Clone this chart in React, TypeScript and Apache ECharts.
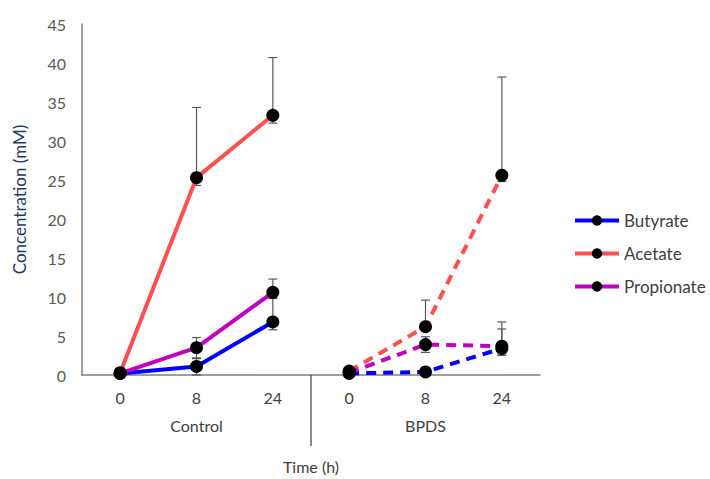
import React, { useEffect, useRef } from "react";
import * as echarts from "echarts";

const categories = ["0", "8", "24", "0", "8", "24"];
const groups = ["Control", "BPDS"];
const seriesNames = ["Butyrate", "Acetate", "Propionate"];
const colors = ["#0000ff", "#ff5050", "#c000c0"];

const butyrate = [0.2, 1.1, 6.8, 0.2, 0.4, 3.4];
const acetate = [0.3, 25.3, 33.3, 0.5, 6.2, 25.6];
const propionate = [0.2, 3.5, 10.6, 0.3, 3.9, 3.7];

const butyratePlus = [0, 1.0, 3.0, 0, 0, 2.5];
const butyrateMinus = [0, 1.1, 1.0, 0, 0, 0.9];
const acetatePlus = [0, 9.0, 7.4, 0, 3.4, 12.6];
const acetateMinus = [0, 1.0, 1.0, 0, 0.5, 0.8];
const propionatePlus = [0, 1.3, 1.7, 0, 1.0, 3.1];
const propionateMinus = [0, 1.3, 0.7, 0, 1.0, 1.0];

const FONT = "Lato, 'Open Sans', sans-serif";

export default function App() {
  const ref = useRef<HTMLDivElement>(null);

  useEffect(() => {
    if (!ref.current) return;
    const chart = echarts.init(ref.current, null, { renderer: "svg" });

    const values = [butyrate, acetate, propionate];
    const plus = [butyratePlus, acetatePlus, propionatePlus];
    const minus = [butyrateMinus, acetateMinus, propionateMinus];

    const lineSeries: any[] = [];
    values.forEach((vals, k) => {
      const ctrl = vals.map((v, i) => (i < 3 ? v : null));
      const bpds = vals.map((v, i) => (i >= 3 ? v : null));
      [ctrl, bpds].forEach((d, g) => {
        lineSeries.push({
          type: "line",
          name: seriesNames[k],
          data: d,
          xAxisIndex: 0,
          symbol: "circle",
          symbolSize: 13,
          showSymbol: true,
          connectNulls: false,
          z: 3,
          lineStyle: {
            color: colors[k],
            width: 4,
            type: g === 0 ? "solid" : [10, 7],
          },
          itemStyle: { color: "#000", borderWidth: 0 },
          emphasis: { disabled: true },
        });
      });
    });

    const errData: any[] = [];
    values.forEach((vals, k) => {
      vals.forEach((v, i) => {
        if (plus[k][i] > 0 || minus[k][i] > 0) {
          errData.push([i, v + plus[k][i], v - minus[k][i]]);
        }
      });
    });

    const errorSeries = {
      type: "custom",
      name: "err",
      xAxisIndex: 0,
      z: 2,
      silent: true,
      data: errData,
      encode: { x: 0, y: [1, 2] },
      renderItem: (params: any, api: any) => {
        const x = api.value(0);
        const hi = api.coord([x, api.value(1)]);
        const lo = api.coord([x, api.value(2)]);
        const w = 4.5;
        const style = { stroke: "#595959", lineWidth: 1.2 };
        return {
          type: "group",
          children: [
            { type: "line", shape: { x1: hi[0], y1: hi[1], x2: lo[0], y2: lo[1] }, style },
            { type: "line", shape: { x1: hi[0] - w, y1: hi[1], x2: hi[0] + w, y2: hi[1] }, style },
            { type: "line", shape: { x1: lo[0] - w, y1: lo[1], x2: lo[0] + w, y2: lo[1] }, style },
          ],
        };
      },
    };

    const separatorSeries = {
      type: "custom",
      name: "sep",
      xAxisIndex: 0,
      silent: true,
      clip: false,
      data: [[2, 0]],
      renderItem: (params: any, api: any) => {
        const a = api.coord([2, 0]);
        const b = api.coord([3, 0]);
        const x = (a[0] + b[0]) / 2;
        return {
          type: "line",
          shape: { x1: x, y1: a[1], x2: x, y2: a[1] + 71 },
          style: { stroke: "#404040", lineWidth: 1.2 },
        };
      },
    };

    chart.setOption({
      animation: false,
      textStyle: { fontFamily: FONT },
      grid: { left: 82, right: 170, top: 24, bottom: 97, containLabel: false },
      legend: {
        data: seriesNames,
        orient: "vertical",
        left: 568,
        top: 207,
        itemWidth: 44,
        itemHeight: 13,
        itemGap: 16,
        lineStyle: { width: 4 },
        textStyle: { fontSize: 17, color: "#404040", fontFamily: FONT },
      },
      xAxis: [
        {
          type: "category",
          data: categories,
          boundaryGap: true,
          axisLine: { show: true, lineStyle: { color: "#7f7f7f", width: 1.5 } },
          axisTick: { show: false },
          axisLabel: { color: "#404040", fontSize: 16, margin: 14, fontFamily: FONT },
          splitLine: { show: false },
        },
        {
          type: "category",
          data: groups,
          position: "bottom",
          offset: 28,
          boundaryGap: true,
          axisLine: { show: false },
          axisTick: { show: false },
          axisLabel: { color: "#404040", fontSize: 16, margin: 14, fontFamily: FONT },
          splitLine: { show: false },
          name: "Time (h)",
          nameLocation: "middle",
          nameGap: 55,
          nameTextStyle: { color: "#404040", fontSize: 16, fontFamily: FONT },
        },
      ],
      yAxis: {
        type: "value",
        min: 0,
        max: 45,
        interval: 5,
        axisLine: { show: true, lineStyle: { color: "#7f7f7f", width: 1.5 } },
        axisTick: { show: false },
        splitLine: { show: false },
        axisLabel: { color: "#595959", fontSize: 16, margin: 16, fontFamily: FONT },
        name: "Concentration (mM)",
        nameLocation: "middle",
        nameGap: 54,
        nameTextStyle: { color: "#1f3864", fontSize: 17, fontFamily: FONT },
      },
      series: [separatorSeries, errorSeries, ...lineSeries],
    });

    return () => chart.dispose();
  }, []);

  return (
    <div
      ref={ref}
      style={{ position: "absolute", left: 0, top: 0, width: 710, height: 479 }}
    />
  );
}
